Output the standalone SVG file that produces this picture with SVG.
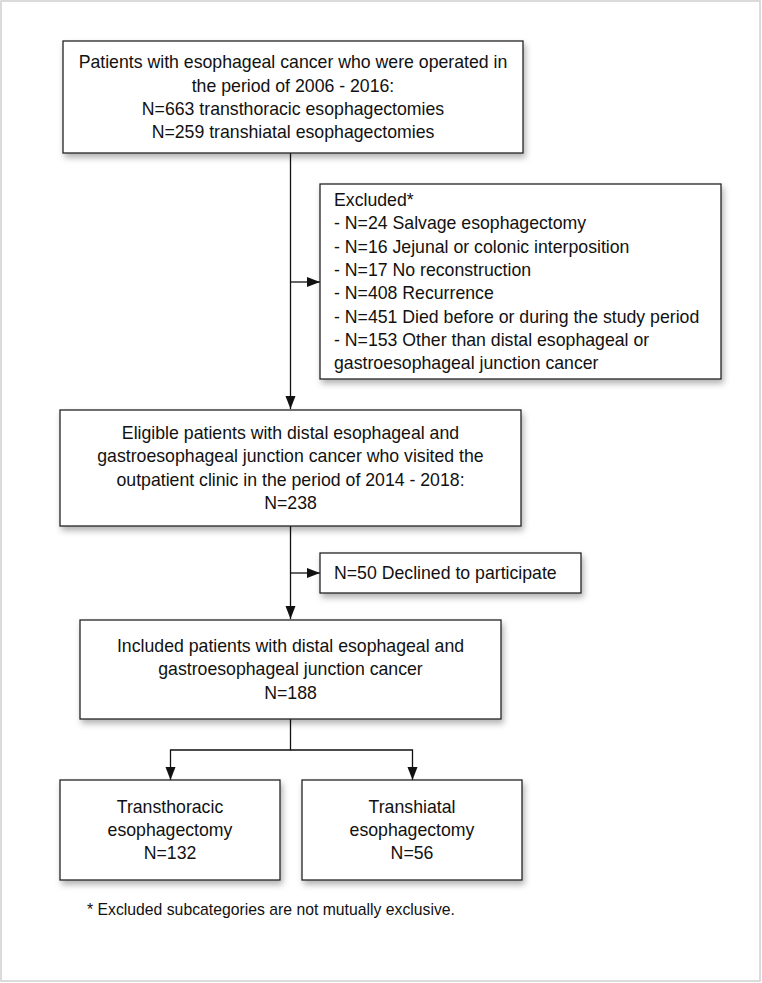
<svg xmlns="http://www.w3.org/2000/svg" width="762" height="983" viewBox="0 0 762 983">
<defs>
<filter id="sh" x="-10%" y="-10%" width="130%" height="140%">
<feDropShadow dx="2" dy="4" stdDeviation="3" flood-color="#000" flood-opacity="0.3"/>
</filter>
<marker id="ah" markerUnits="userSpaceOnUse" markerWidth="14" markerHeight="11" refX="13" refY="5" orient="auto">
<path d="M0,0 L13,5 L0,10 z" fill="#111"/>
</marker>
<style>
.box{fill:#fff;stroke:#222;stroke-width:1.3;filter:url(#sh)}
.t{font-family:"Liberation Sans",Arial,sans-serif;font-size:17.7px;fill:#111}
.c{text-anchor:middle}
.ln{fill:none;stroke:#111;stroke-width:1.3}
</style>
</defs>
<rect x="1" y="1" width="759" height="980" fill="#fff" stroke="#d0d0d0" stroke-width="1.5"/>
<g id="connectors">
<path class="ln" d="M290.5,153 V409" marker-end="url(#ah)"/>
<path class="ln" d="M290.5,282 H320" marker-end="url(#ah)"/>
<path class="ln" d="M290.5,526 V619" marker-end="url(#ah)"/>
<path class="ln" d="M290.5,573 H320" marker-end="url(#ah)"/>
<path class="ln" d="M290.5,719 V750 H170.5 V780" marker-end="url(#ah)"/>
<path class="ln" d="M290.5,750 H412.5 V780" marker-end="url(#ah)"/>
</g>
<g id="n1">
<rect class="box" x="63" y="41" width="460" height="112"/>
<text class="t c" x="293" y="68">Patients with esophageal cancer who were operated in</text>
<text class="t c" x="293" y="91.5">the period of 2006 - 2016:</text>
<text class="t c" x="293" y="115">N=663 transthoracic esophagectomies</text>
<text class="t c" x="293" y="138">N=259 transhiatal esophagectomies</text>
</g>
<g id="n2">
<rect class="box" x="320" y="184" width="401" height="195"/>
<text class="t" x="334" y="206">Excluded*</text>
<text class="t" x="334" y="229.3">- N=24 Salvage esophagectomy</text>
<text class="t" x="334" y="252.6">- N=16 Jejunal or colonic interposition</text>
<text class="t" x="334" y="275.9">- N=17 No reconstruction</text>
<text class="t" x="334" y="299.2">- N=408 Recurrence</text>
<text class="t" x="334" y="322.5">- N=451 Died before or during the study period</text>
<text class="t" x="334" y="345.8">- N=153 Other than distal esophageal or</text>
<text class="t" x="334" y="369.1">gastroesophageal junction cancer</text>
</g>
<g id="n3">
<rect class="box" x="60" y="410" width="461" height="116"/>
<text class="t c" x="290.5" y="439">Eligible patients with distal esophageal and</text>
<text class="t c" x="290.5" y="462.3">gastroesophageal junction cancer who visited the</text>
<text class="t c" x="290.5" y="485.6">outpatient clinic in the period of 2014 - 2018:</text>
<text class="t c" x="290.5" y="508.9">N=238</text>
</g>
<g id="n4">
<rect class="box" x="320" y="553" width="261" height="40"/>
<text class="t" x="334" y="579">N=50 Declined to participate</text>
</g>
<g id="n5">
<rect class="box" x="80" y="620" width="421" height="99"/>
<text class="t c" x="290.5" y="652">Included patients with distal esophageal and</text>
<text class="t c" x="290.5" y="675.3">gastroesophageal junction cancer</text>
<text class="t c" x="290.5" y="698.6">N=188</text>
</g>
<g id="n6">
<rect class="box" x="60" y="780" width="220" height="100"/>
<text class="t c" x="170" y="812.5">Transthoracic</text>
<text class="t c" x="170" y="835.8">esophagectomy</text>
<text class="t c" x="170" y="859.1">N=132</text>
</g>
<g id="n7">
<rect class="box" x="302" y="780" width="220" height="100"/>
<text class="t c" x="412" y="812.5">Transhiatal</text>
<text class="t c" x="412" y="835.8">esophagectomy</text>
<text class="t c" x="412" y="859.1">N=56</text>
</g>
<text class="t" x="87" y="915" style="font-size:17px" textLength="368" lengthAdjust="spacingAndGlyphs">* Excluded subcategories are not mutually exclusive.</text>
</svg>
